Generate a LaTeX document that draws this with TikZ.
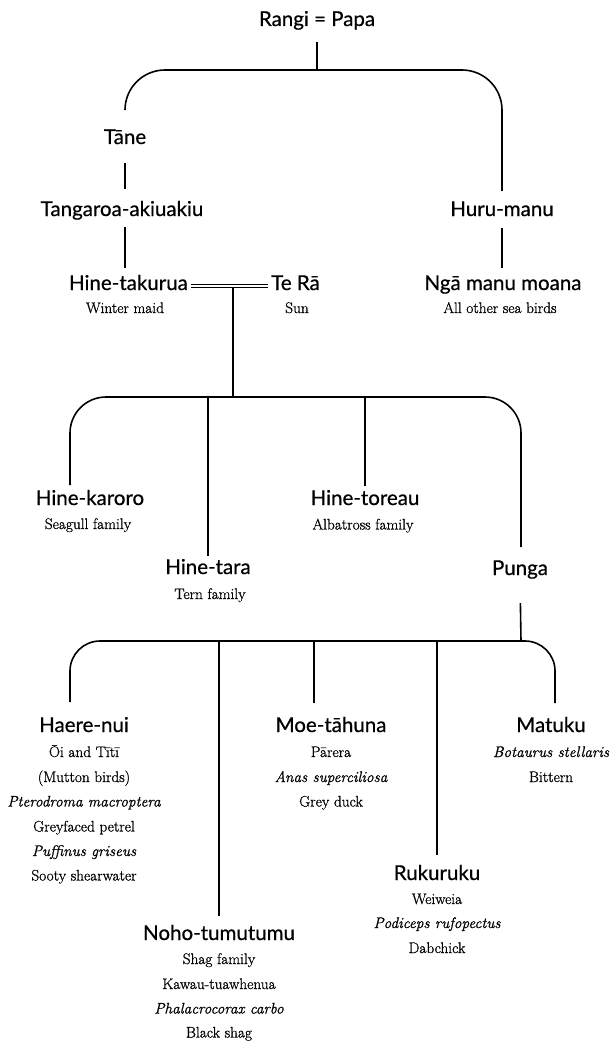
\documentclass[tikz,border=0pt]{standalone}
\usepackage{fontspec}
\setmainfont{Latin Modern Roman}[FakeBold=0.9]
\newfontfamily\headfont{Lato}[FakeBold=0.6]
\begin{document}
\begin{tikzpicture}[x=1pt,y=-1pt,
  link/.style={line width=1.6pt},
  wedline/.style={line width=1pt, shorten <=3pt, shorten >=3pt},
  hd/.style={font=\headfont\fontsize{20.5}{22}\selectfont, inner sep=0pt,
             text height=14pt, text depth=4pt, anchor=base},
  sb/.style={font=\fontsize{15.3}{17}\selectfont, inner sep=0pt, anchor=base},
  sbi/.style={sb, font=\fontsize{15.3}{17}\selectfont\itshape}]
\useasboundingbox (0,0) rectangle (611,1043);

% --- first generations ---
\node[hd] (rangi) at (317,26) {Rangi = Papa};
\node[hd] (tane) at (125,144) {Tāne};
\node[hd] (tangaroa) at (122,216) {Tangaroa-akiuakiu};
\node[hd] (hurumanu) at (502,216) {Huru-manu};
\node[hd, anchor=base east] (takurua) at (188,290) {Hine-takurua};
\node[hd, anchor=base west] (tera) at (271,290) {Te Rā};
\node[hd] (ngamanu) at (503,290) {Ngā manu moana};
\node[sb] (winter) at (125,313) {Winter maid};
\node[sb] (sun) at (297,313) {Sun};
\node[sb] (allother) at (500,313) {All other sea birds};

% --- children of Hine-takurua and Te Ra ---
\node[hd] (karoro) at (90,505) {Hine-karoro};
\node[sb] (seagull) at (88,529) {Seagull family};
\node[hd] (toreau) at (365,505) {Hine-toreau};
\node[sb] (albatross) at (363,529.5) {Albatross family};
\node[hd] (tara) at (208,574) {Hine-tara};
\node[sb] (tern) at (210,599) {Tern family};
\node[hd] (punga) at (520,575) {Punga};

% --- children of Punga ---
\node[hd] (haere) at (84,732) {Haere-nui};
\node[sb] (haere1) at (84,757) {Ōi and Tītī};
\node[sb] (haere2) at (84,782) {(Mutton birds)};
\node[sbi] (haere3) at (84,806.5) {Pterodroma macroptera};
\node[sb] (haere4) at (84,831.5) {Greyfaced petrel};
\node[sbi] (haere5) at (84,856) {Puffinus griseus};
\node[sb] (haere6) at (84,880.5) {Sooty shearwater};

\node[hd] (moe) at (331,732) {Moe-tāhuna};
\node[sb] (moe1) at (331,757) {Pārera};
\node[sbi] (moe2) at (331,782) {Anas superciliosa};
\node[sb] (moe3) at (331,806.5) {Grey duck};

\node[hd] (matuku) at (551,732) {Matuku};
\node[sbi] (matuku1) at (551,757) {Botaurus stellaris};
\node[sb] (matuku2) at (551,782) {Bittern};

\node[hd] (rukuruku) at (437,880) {Rukuruku};
\node[sb] (ruku1) at (437,904) {Weiweia};
\node[sbi] (ruku2) at (437,928) {Podiceps rufopectus};
\node[sb] (ruku3) at (437,953) {Dabchick};

\node[hd] (noho) at (219,940) {Noho-tumutumu};
\node[sb] (noho1) at (219,964) {Shag family};
\node[sb] (noho2) at (219,989) {Kawau-tuawhenua};
\node[sbi] (noho3) at (219,1013.5) {Phalacrocorax carbo};
\node[sb] (noho4) at (219,1037.5) {Black shag};

% --- junctions and free line ends ---
\coordinate (top) at (317,70);
\coordinate (wed) at (233,286.5);
\coordinate (fork2) at (233,397);
\coordinate (fork3) at (521,641);
\coordinate (karoroend) at (70,485);
\coordinate (pungaend) at (521,547);
\coordinate (haereend) at (70,702);
\coordinate (moeend) at (314,703);
\coordinate (matukuend) at (555,703);

% --- connectors ---
\draw[link, shorten <=12pt] (rangi.south) -- (top);
\draw[link, rounded corners=40pt] ([yshift=21pt]tane.north) |- (top)
      -| ([yshift=11pt]hurumanu.north);
\draw[link, shorten <=15pt, shorten >=13pt] (tane.south) -- (tane.south |- tangaroa.north);
\draw[link, shorten <=7pt, shorten >=8pt] (tane.south |- tangaroa.south) -- (tane.south |- takurua.north);
\draw[link, shorten <=8pt, shorten >=8pt] (hurumanu.south) -- (hurumanu.south |- ngamanu.north);

% marriage of Hine-takurua and Te Ra
\draw[wedline] ([yshift=6pt]takurua.base east) -- ([yshift=6pt]tera.base west);
\draw[wedline] ([yshift=2.5pt]takurua.base east) -- ([yshift=2.5pt]tera.base west);
\draw[link] (wed) -- (fork2);

\draw[link, rounded corners=36pt] (karoroend) -- (karoroend |- fork2)
      -- (pungaend |- fork2) -- (pungaend);
\draw[link] (fork2 -| tara.north) -- ([yshift=4pt]tara.north);
\draw[link] (fork2 -| toreau.north) -- ([yshift=5pt]toreau.north);

\draw[link, shorten <=24pt] (punga.south) -- (fork3);
\draw[link, rounded corners=30pt] (haereend) -- (haereend |- fork3)
      -- (matukuend |- fork3) -- (matukuend);
\draw[link] (fork3 -| noho.north) -- ([yshift=10pt]noho.north);
\draw[link] (fork3 -| moeend) -- (moeend);
\draw[link] (fork3 -| rukuruku.north) -- ([yshift=11pt]rukuruku.north);
\end{tikzpicture}
\end{document}
